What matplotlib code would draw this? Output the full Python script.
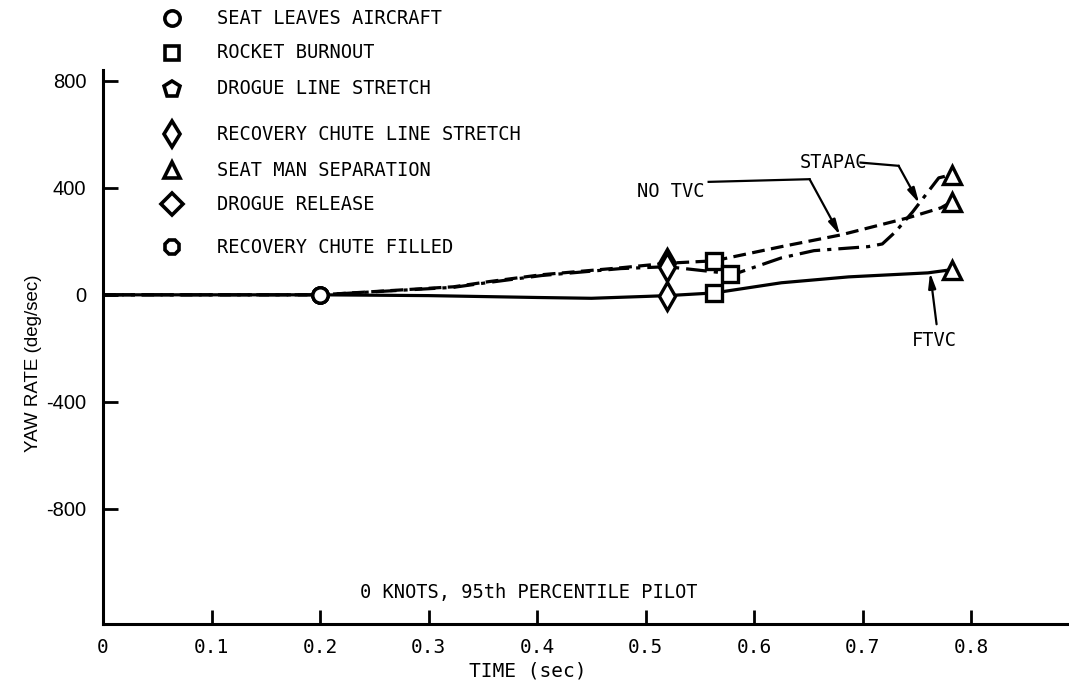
# -*- coding: utf-8 -*-
"""
yaw rate history of the ejection seat, 0 knots, 95th percentile pilot
"""

import numpy as np
import matplotlib
matplotlib.use("Agg")
import matplotlib.pyplot as plt
from matplotlib.lines import Line2D


# ---- curves (time in sec, yaw rate in deg/sec) ----
ftvc_t = [0.0, 0.2, 0.3, 0.4, 0.45, 0.5, 0.52, 0.563, 0.625, 0.687, 0.76, 0.782]
ftvc_y = [0, 0, -3, -10, -13, -6, -3, 7, 45, 67, 82, 94]

no_tvc_t = [0.0, 0.2, 0.323, 0.355, 0.404, 0.477, 0.52, 0.563, 0.625, 0.68,
            0.742, 0.772, 0.782]
no_tvc_y = [0, 0, 30, 49, 75, 101, 118, 127, 180, 224, 288, 325, 348]

stapac_t = [0.0, 0.2, 0.323, 0.355, 0.404, 0.477, 0.52, 0.578, 0.585, 0.625,
            0.655, 0.705, 0.718, 0.73, 0.746, 0.77, 0.782]
stapac_y = [0, 0, 28, 46, 72, 98, 105, 79, 82, 138, 165, 180, 190, 235, 310,
            437, 449]

# ---- events along each curve ----
event_times = [0.2, 0.52, 0.563, 0.782]
stapac_event_times = [0.2, 0.52, 0.578, 0.782]
event_markers = ["o", "d", "s", "^"]

# ---- key ----
key_labels = ["SEAT LEAVES AIRCRAFT", "ROCKET BURNOUT", "DROGUE LINE STRETCH",
              "RECOVERY CHUTE LINE STRETCH", "SEAT MAN SEPARATION",
              "DROGUE RELEASE", "RECOVERY CHUTE FILLED"]
key_markers = ["o", "s", "p", "d", "^", "D", "8"]

x_ticks = [0.0, 0.1, 0.2, 0.3, 0.4, 0.5, 0.6, 0.7, 0.8]
x_ticklabels = ["0", "0.1", "0.2", "0.3", "0.4", "0.5", "0.6", "0.7", "0.8"]
y_ticks = [800, 400, 0, -400, -800]

MONO = "DejaVu Sans Mono"
SANS = "Liberation Sans"


# ----------
def draw_key(fig):
    # marker column and text column, rows in pixels from the top
    rows_px = [18, 53, 89, 134, 170, 204, 247]
    sizes = [11, 10, 12, 13, 11, 11, 11]
    W, H = 1069., 698.
    for the_index in range(len(key_labels)):
        y_fig = 1 - rows_px[the_index] / H
        fig.add_artist(Line2D([172 / W], [y_fig], marker=key_markers[the_index],
                              markersize=sizes[the_index], markerfacecolor="white",
                              markeredgecolor="black", markeredgewidth=2.6,
                              linestyle="none", transform=fig.transFigure))
        fig.text(217 / W, y_fig, key_labels[the_index], fontsize=13.5,
                 family=MONO, va="center", ha="left")


# ----------
def plot_curve(ax, t, y, events, the_dashes):
    ax.plot(t, y, color="black", linewidth=2.3, dashes=the_dashes,
            solid_capstyle="butt", zorder=2)
    for the_time, the_marker in zip(events, event_markers):
        ms = 14 if the_marker == "d" else (13 if the_marker == "^" else 11)
        ax.plot(the_time, np.interp(the_time, t, y), marker=the_marker,
                markersize=ms, markerfacecolor="white", markeredgecolor="black",
                markeredgewidth=2.4, linestyle="none", zorder=4)


# ----------
def annotate_curve(ax, text, text_xy, corner_xy, tip_t, t, y, ha="center"):
    tip = (tip_t, np.interp(tip_t, t, y))
    ax.text(text_xy[0], text_xy[1], text, fontsize=13.5, family=MONO,
            ha=ha, va="center")
    ax.annotate("", xy=tip, xytext=corner_xy,
                arrowprops=dict(arrowstyle="-|>,head_length=0.9,head_width=0.22",
                                color="black", linewidth=1.6,
                                shrinkA=0, shrinkB=0))


# ----------
def main():
    fig = plt.figure(figsize=(10.69, 6.98), dpi=100)
    ax = fig.add_axes([103 / 1069., 1 - 624 / 698., 966 / 1069., 554 / 698.])

    plot_curve(ax, ftvc_t, ftvc_y, event_times, ())
    plot_curve(ax, no_tvc_t, no_tvc_y, event_times, (4, 2))
    plot_curve(ax, stapac_t, stapac_y, stapac_event_times, (6.5, 2.2, 1.3, 2.2))

    # ---- curve labels ----
    annotate_curve(ax, "STAPAC", (0.673, 494), (0.733, 482), 0.752,
                   stapac_t, stapac_y)
    ax.plot([0.698, 0.733], [494, 482], color="black", linewidth=1.6)

    annotate_curve(ax, "NO TVC", (0.523, 385), (0.651, 432), 0.679,
                   no_tvc_t, no_tvc_y)
    ax.plot([0.558, 0.651], [422, 432], color="black", linewidth=1.6)

    annotate_curve(ax, "FTVC", (0.766, -172), (0.768, -110), 0.762,
                   ftvc_t, ftvc_y)

    ax.text(0.392, -1111, "0 KNOTS, 95th PERCENTILE PILOT", fontsize=13.5,
            family=MONO, ha="center", va="center")

    # ---- axes ----
    ax.set_xlim(0, 0.89)
    ax.set_ylim(-1230, 840)
    for side in ["top", "right"]:
        ax.spines[side].set_visible(False)
    for side in ["left", "bottom"]:
        ax.spines[side].set_linewidth(2.2)

    ax.set_xticks(x_ticks)
    ax.set_xticklabels(x_ticklabels, family=MONO, fontsize=14)
    ax.set_yticks(y_ticks)
    ax.set_yticklabels([str(v) for v in y_ticks], family=SANS, fontsize=14.5)
    ax.tick_params(axis="x", direction="in", length=10, width=2, pad=10)
    ax.tick_params(axis="y", direction="in", length=11, width=2, pad=12)

    ax.set_xlabel("TIME (sec)", family=MONO, fontsize=14)
    ax.xaxis.set_label_coords(0.44, -0.068)
    ax.set_ylabel("YAW RATE (deg/sec)", family=SANS, fontsize=13.5)
    ax.yaxis.set_label_coords(-0.063, 0.47)

    draw_key(fig)

    fig.savefig("out.png", dpi=100)
    plt.close(fig)


# ----------
if __name__ == "__main__":
    main()
